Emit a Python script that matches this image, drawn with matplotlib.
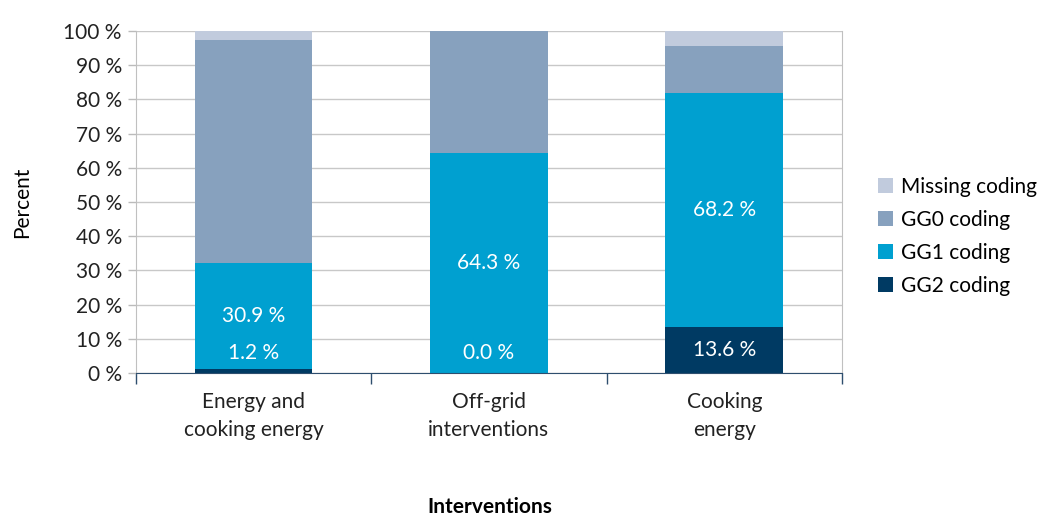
import numpy as np
import matplotlib.pyplot as plt

plt.rcParams['font.family'] = ['Lato', 'DejaVu Sans']

categories = ['Energy and\ncooking energy', 'Off-grid\ninterventions', 'Cooking\nenergy']
series = ['GG2 coding', 'GG1 coding', 'GG0 coding', 'Missing coding']
gg2 = [1.2, 0.0, 13.6]
gg1 = [30.9, 64.3, 68.2]
gg0 = [65.3, 35.7, 13.7]
missing = [2.6, 0.0, 4.5]
colors = ['#003A63', '#00A0D0', '#87A1BE', '#C1CBDD']

fs = 15

fig = plt.figure(figsize=(10.44, 5.15), dpi=100)
ax = fig.add_axes([0.130, 0.2757, 0.6765, 0.6641])

x = np.arange(len(categories))
bottom = np.zeros(len(categories))
bars = {}
for name, vals, col in zip(series, [gg2, gg1, gg0, missing], colors):
    vals = np.array(vals)
    bars[name] = ax.bar(x, vals, 0.5, bottom=bottom, color=col, label=name, zorder=3)
    bottom += vals

# value labels for the two lower segments
for i in range(len(categories)):
    ax.text(x[i], max(gg2[i] / 2, 5.8), f'{gg2[i]:.1f} %', ha='center', va='center',
            color='white', fontsize=fs, zorder=4)
    ax.text(x[i], gg2[i] + gg1[i] / 2, f'{gg1[i]:.1f} %', ha='center', va='center',
            color='white', fontsize=fs, zorder=4)

ax.set_xlim(-0.5, 2.5)
ax.set_ylim(0, 100)
ax.set_yticks(np.arange(0, 101, 10))
ax.set_yticklabels([f'{v} %' for v in range(0, 101, 10)], fontsize=fs, color='#222222')
ax.yaxis.grid(True, color='#C8C8C8', linewidth=1, zorder=0)
ax.tick_params(axis='y', length=6, color='#BBBBBB', width=1, pad=4)

ax.set_xticks(x)
ax.set_xticklabels(categories, fontsize=fs, color='#222222', linespacing=1.5)
ax.set_xticks([-0.5, 0.5, 1.5, 2.5], minor=True)
ax.tick_params(axis='x', which='major', length=0, pad=14)
ax.tick_params(axis='x', which='minor', length=8, color='#2E4E6E', width=1)

for s in ['left', 'right', 'top']:
    ax.spines[s].set_color('#C0C0C0')
ax.spines['top'].set_visible(False)
ax.spines['bottom'].set_color('#2E4E6E')
ax.spines['bottom'].set_zorder(5)

fig.text(0.021, 0.6067, 'Percent', rotation=90, ha='center', va='center', fontsize=fs)
fig.text(0.469, 0.016, 'Interventions', ha='center', va='center', fontsize=fs, fontweight='bold')

handles = [bars[n] for n in reversed(series)]
ax.legend(handles, list(reversed(series)), loc='center left', bbox_to_anchor=(1.025, 0.4),
          frameon=False, fontsize=fs, handlelength=0.7, handleheight=0.7,
          handletextpad=0.4, labelspacing=0.62)

fig.savefig('out.png', dpi=100)
